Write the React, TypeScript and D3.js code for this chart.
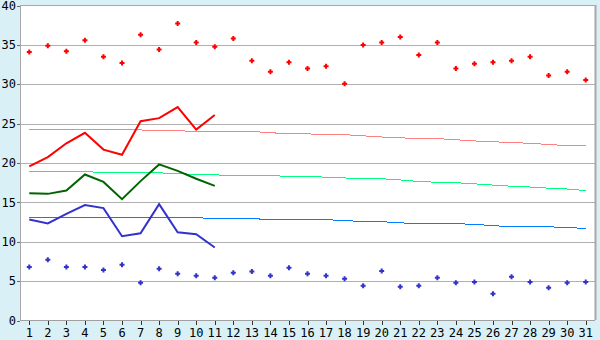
import React from "react";
import * as d3 from "d3";

const days = Array.from({ length: 31 }, (_, i) => String(i + 1));
const yTicks = [0, 5, 10, 15, 20, 25, 30, 35, 40];

const maxDots = [34.1, 34.9, 34.2, 35.6, 33.5, 32.7, 36.3, 34.4, 37.7, 35.3, 34.75, 35.8, 33.0, 31.6, 32.8, 32.0, 32.3, 30.05, 35.0, 35.3, 36.0, 33.7, 35.3, 32.0, 32.6, 32.8, 33.0, 33.5, 31.1, 31.6, 30.55];
const minDots = [6.8, 7.7, 6.8, 6.8, 6.4, 7.07, 4.78, 6.56, 5.93, 5.67, 5.42, 6.05, 6.22, 5.67, 6.69, 5.93, 5.67, 5.29, 4.4, 6.3, 4.28, 4.4, 5.42, 4.78, 4.9, 3.39, 5.55, 4.9, 4.15, 4.78, 4.9];

const maxLine = [19.56, 20.74, 22.5, 23.83, 21.7, 21.04, 25.3, 25.7, 27.1, 24.25, 26.1];
const meanLine = [16.17, 16.08, 16.5, 18.54, 17.6, 15.4, 17.7, 19.82, 19.0, 18.0, 17.1];
const minLine = [12.83, 12.32, 13.55, 14.65, 14.27, 10.7, 11.08, 14.77, 11.2, 10.96, 9.27];

const normalMax = [24.3, 24.3, 24.3, 24.3, 24.2, 24.2, 24.2, 24.1, 24.1, 24.0, 24.0, 24.0, 24.0, 23.85, 23.7, 23.7, 23.6, 23.6, 23.45, 23.3, 23.2, 23.1, 23.1, 22.95, 22.8, 22.7, 22.6, 22.5, 22.35, 22.2, 22.2];
const normalMean = [18.9, 18.9, 18.9, 18.9, 18.8, 18.8, 18.8, 18.75, 18.65, 18.55, 18.5, 18.4, 18.4, 18.4, 18.3, 18.3, 18.2, 18.1, 18.0, 18.0, 17.85, 17.65, 17.55, 17.5, 17.35, 17.2, 17.05, 16.95, 16.8, 16.7, 16.5];
const normalMin = [13.1, 13.1, 13.1, 13.1, 13.1, 13.1, 13.1, 13.1, 13.1, 13.05, 12.95, 12.95, 12.95, 12.8, 12.8, 12.8, 12.8, 12.7, 12.55, 12.55, 12.4, 12.3, 12.3, 12.3, 12.2, 12.05, 11.9, 11.9, 11.9, 11.8, 11.7];

const W = 600;
const H = 340;
const L = 20;
const R = 595;
const T = 5;
const B = 320;

const crossPath = "M-1,-2.5H1V-1H2.5V1H1V2.5H-1V1H-2.5V-1H-1Z";

export default function App() {
  const x = d3.scalePoint<string>().domain(days).range([L, R]).padding(0.5);
  const y = d3.scaleLinear().domain([0, 40]).range([B + 0.5, T + 0.5]);

  const line = d3
    .line<number>()
    .x((_, i) => x(days[i]) as number)
    .y((d) => y(d));

  const font = "'DejaVu Sans Mono', monospace";

  return (
    <svg width={W} height={H} style={{ position: "absolute", left: 0, top: 0 }} fontFamily={font} fontSize={12}>
      <rect x={0} y={0} width={W} height={H} fill="#d9f0f7" />
      <rect x={L} y={T} width={R - L} height={B - T} fill="#ffffff" />
      {yTicks.map((t) => (
        <g key={t}>
          {t > 0 && t < 40 && (
            <line x1={L} x2={R} y1={Math.round(y(t)) + 0.5} y2={Math.round(y(t)) + 0.5} stroke="#b0b0b0" strokeWidth={1} />
          )}
          <line x1={L - 3} x2={L} y1={Math.round(y(t)) + 0.5} y2={Math.round(y(t)) + 0.5} stroke="#666" strokeWidth={1} />
          <text x={16} y={y(t)} dy="0.35em" textAnchor="end" fill="#000">
            {t}
          </text>
        </g>
      ))}
      {/* borders */}
      <line x1={L} x2={R} y1={T + 0.5} y2={T + 0.5} stroke="#a8a8a8" />
      <line x1={R + 0.5} x2={R + 0.5} y1={T} y2={B} stroke="#a8a8a8" strokeWidth={2} />
      <line x1={L + 0.5} x2={L + 0.5} y1={T} y2={B + 1} stroke="#a8a8a8" />
      <line x1={L} x2={R} y1={B + 0.5} y2={B + 0.5} stroke="#a0a0a0" />
      {days.map((d) => (
        <g key={d}>
          <line x1={Math.round(x(d) as number) + 0.5} x2={Math.round(x(d) as number) + 0.5} y1={B + 1} y2={B + 5} stroke="#333" />
          <text x={x(d)} y={337} textAnchor="middle" fill="#000">
            {d}
          </text>
        </g>
      ))}

      {/* normals */}
      <path d={line(normalMax) || ""} fill="none" stroke="#ff8080" strokeWidth={1} shapeRendering="crispEdges" />
      <path d={line(normalMean) || ""} fill="none" stroke="#00ff80" strokeWidth={1} shapeRendering="crispEdges" />
      <path d={line(normalMin) || ""} fill="none" stroke="#0080ff" strokeWidth={1} shapeRendering="crispEdges" />

      {/* observed lines */}
      <path d={line(maxLine) || ""} fill="none" stroke="#ff0000" strokeWidth={2} />
      <path d={line(meanLine) || ""} fill="none" stroke="#006400" strokeWidth={2} />
      <path d={line(minLine) || ""} fill="none" stroke="#3333cc" strokeWidth={2} />

      {/* dots */}
      {maxDots.map((v, i) => (
        <path key={"mx" + i} d={crossPath} transform={`translate(${x(days[i])},${y(v)})`} fill="#ff0000" />
      ))}
      {minDots.map((v, i) => (
        <path key={"mn" + i} d={crossPath} transform={`translate(${x(days[i])},${y(v)})`} fill="#3333cc" />
      ))}
    </svg>
  );
}
